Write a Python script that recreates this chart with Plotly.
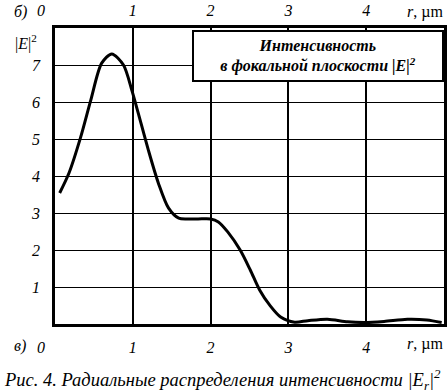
import plotly.graph_objects as go

# Data
r_um = [0.06, 0.18, 0.33, 0.46, 0.60, 0.73, 0.88, 0.99, 1.07, 1.20, 1.33, 1.46, 1.59, 1.72, 1.84,
        2.0, 2.1, 2.22, 2.38, 2.51, 2.63, 2.76, 2.9, 3.08, 3.25, 3.5, 3.76, 3.98, 4.23, 4.53, 4.78, 4.97]
intensity = [3.54, 4.08, 5.05, 6.05, 7.05, 7.3, 7.0, 6.3, 5.7, 4.7, 3.8, 3.13, 2.86, 2.84, 2.84,
             2.84, 2.76, 2.49, 2.0, 1.46, 0.92, 0.51, 0.19, 0.05, 0.09, 0.13, 0.06, 0.04, 0.07, 0.13, 0.11, 0.04]

x_ticks = [0, 1, 2, 3, 4]
x_ticktext = ["<i>0</i>" + "&nbsp;" * 7, "<i>1</i>", "<i>2</i>", "<i>3</i>", "<i>4</i>"]
y_ticks = [1, 2, 3, 4, 5, 6, 7]
y_ticktext = ["<i>%d</i>" % v for v in y_ticks]

FONT = "Liberation Serif"

fig = go.Figure()
fig.add_trace(go.Scatter(x=r_um, y=intensity, mode="lines",
                         line=dict(color="black", width=3, shape="spline", smoothing=0.8),
                         showlegend=False, hoverinfo="skip"))
# invisible trace on top axis
fig.add_trace(go.Scatter(x=[0, 5], y=[0, 0], xaxis="x2", mode="lines",
                         line=dict(width=0), showlegend=False, hoverinfo="skip"))

tf = dict(family=FONT, size=16, color="black")
axis_common = dict(showline=True, linecolor="black", linewidth=2.5, mirror=True,
                   zeroline=False, ticks="outside", tickcolor="rgba(0,0,0,0)", tickfont=tf)

fig.update_layout(
    width=448, height=391,
    margin=dict(l=55, r=1, t=28, b=67),
    plot_bgcolor="white", paper_bgcolor="white",
    font=dict(family=FONT, color="black"),
    xaxis=dict(range=[0, 5], tickvals=x_ticks, ticktext=x_ticktext, ticklen=7,
               showgrid=True, gridcolor="black", gridwidth=1.6, **axis_common),
    xaxis2=dict(range=[0, 5], overlaying="x", side="top", tickvals=x_ticks,
                ticktext=x_ticktext, ticklen=5, showgrid=False, showline=False,
                zeroline=False, ticks="outside", tickcolor="rgba(0,0,0,0)", tickfont=tf),
    yaxis=dict(range=[0, 8], tickvals=y_ticks, ticktext=y_ticktext, ticklen=9,
               showgrid=True, gridcolor="black", gridwidth=1.2, **axis_common),
)

ann_font = dict(family=FONT, size=16, color="black")
fig.add_annotation(text="<i>r</i>, µm", xref="x", yref="paper", x=4.75, y=1, yanchor="bottom",
                   yshift=5, showarrow=False, font=ann_font)
fig.add_annotation(text="<i>r</i>, µm", xref="x", yref="paper", x=4.75, y=0, yanchor="top",
                   yshift=-9, showarrow=False, font=ann_font)
fig.add_annotation(text="<i>б)</i>", xref="paper", yref="paper", x=-0.11, y=1, yanchor="bottom",
                   yshift=5, showarrow=False, font=ann_font)
fig.add_annotation(text="<i>в)</i>", xref="paper", yref="paper", x=-0.11, y=0, yanchor="top",
                   yshift=-11, showarrow=False, font=ann_font)
fig.add_annotation(text="|<i>E</i>|<sup>2</sup>", xref="paper", yref="paper", x=-0.04, y=1,
                   xanchor="right", yanchor="top", yshift=-2, showarrow=False, font=ann_font)
fig.add_annotation(text="<b><i>Интенсивность<br>в фокальной плоскости |E|<sup>2</sup></i></b>",
                   xref="paper", yref="paper", x=0.352, y=0.993, xanchor="left", yanchor="top",
                   width=246, height=46, align="center", showarrow=False,
                   bgcolor="white", bordercolor="black", borderwidth=2, borderpad=1,
                   font=dict(family=FONT, size=16, color="black"))
fig.add_annotation(text="<i>Рис. 4. Радиальные распределения интенсивности |E<sub>r</sub>|<sup>2</sup></i>",
                   xref="paper", yref="paper", x=-0.135, y=0, xanchor="left", yanchor="top",
                   yshift=-40, showarrow=False, font=dict(family=FONT, size=18.5, color="black"))

fig.write_html("out.html", config={"displayModeBar": False},
               post_script="document.body.style.margin='0';")
